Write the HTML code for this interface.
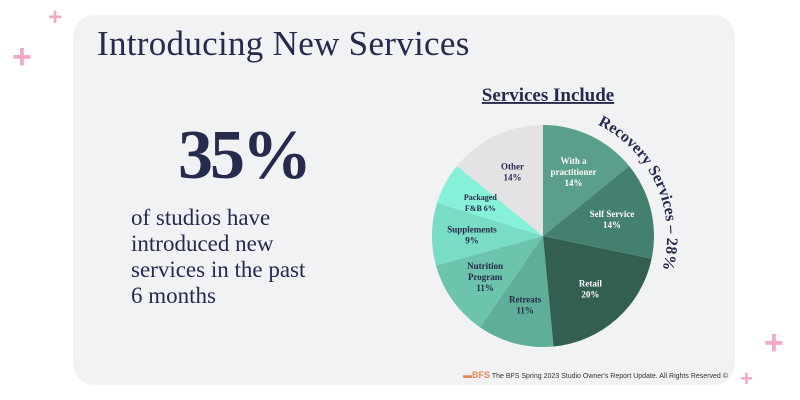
<!DOCTYPE html>
<html><head><meta charset="utf-8"><style>
body{margin:0;width:800px;height:400px;background:#fff;overflow:hidden;position:relative;font-family:"Liberation Serif",serif}
.card{position:absolute;left:73px;top:15px;width:662px;height:370px;background:#f1f2f4;border-radius:22px}
.title{position:absolute;left:97px;top:24px;font-size:35px;color:#262a4c;letter-spacing:0.3px}
.big{position:absolute;left:178px;top:116px;font-size:70px;font-weight:bold;color:#262a4c;letter-spacing:-3px}
.desc{position:absolute;left:131px;top:205px;font-size:23px;line-height:26px;color:#262a4c}
.foot{position:absolute;left:463px;top:370px;font-family:"Liberation Sans",sans-serif;font-size:7px;color:#333}
.plus{position:absolute;color:#f2a9c6;font-family:"Liberation Sans",sans-serif;font-weight:bold}
</style></head><body>
<div class="card"></div>
<div class="plus" style="left:48px;top:4px;font-size:24px">+</div>
<div class="plus" style="left:12px;top:38px;font-size:34px">+</div>
<div class="plus" style="left:764px;top:324px;font-size:34px">+</div>
<div class="plus" style="left:740px;top:366px;font-size:22px">+</div>
<div class="title">Introducing New Services</div>
<div class="big">35%</div>
<div class="desc">of studios have<br>introduced new<br>services in the past<br>6 months</div>
<svg id="chart" width="800" height="400" style="position:absolute;left:0;top:0">
<text x="548" y="101" text-anchor="middle" font-size="19" font-weight="bold" fill="#262a4c" text-decoration="underline">Services Include</text>
<defs><path id="arc" d="M 597.6 124.5 A 124 124 0 0 1 655.4 288.4" fill="none"/></defs>
<text font-size="16" font-weight="bold" fill="#262a4c"><textPath href="#arc">Recovery Services – 28%</textPath></text>
</svg>
<div class="foot"><b style="color:#e8875a;font-size:9px">▬BFS</b> The BFS Spring 2023 Studio Owner's Report Update. All Rights Reserved ©</div>
<script>
const categories=["With a|practitioner","Self Service","Retail","Retreats","Nutrition|Program","Supplements","Packaged|F&B"];
const values=[14,14,20,11,11,9,6,14];
const labels=["14%","14%","20%","11%","11%","9%","6%","14%"];
categories.push("Other");
const colors=["#5a9e8c","#44806f","#335f52","#5fae99","#6cc4ad","#79dcc4","#86f0d8","#e3e3e6"];
const svg=document.getElementById('chart');
const cx=543,cy=236,r=111;
const total=values.reduce((a,b)=>a+b,0);
const NS="http://www.w3.org/2000/svg";
function pt(a,rr){return [cx+rr*Math.sin(a),cy-rr*Math.cos(a)];}
let acc=0;
values.forEach((v,i)=>{
 const a0=acc/total*2*Math.PI; acc+=v; const a1=acc/total*2*Math.PI;
 const p0=pt(a0,r),p1=pt(a1,r);
 const p=document.createElementNS(NS,'path');
 p.setAttribute('d',`M${cx},${cy}L${p0[0]},${p0[1]}A${r},${r} 0 ${a1-a0>Math.PI?1:0} 1 ${p1[0]},${p1[1]}Z`);
 p.setAttribute('fill',colors[i]);
 
 
 svg.insertBefore(p,svg.firstChild);
 const am=(a0+a1)/2; const c=pt(am,r*0.64);
 const lines=categories[i].split('|');
 if(i===6){lines[1]=lines[1]+'  '+labels[i];} else lines.push(labels[i]);
 const dark=i>=3;
 const t=document.createElementNS(NS,'text');
 t.setAttribute('text-anchor','middle');t.setAttribute('font-size',i===6?'8':'9');t.setAttribute('font-weight','bold');
 t.setAttribute('fill',dark?'#262a4c':'#ffffff');
 
 
 lines.forEach((l,j)=>{const s=document.createElementNS(NS,'tspan');s.setAttribute('x',c[0]);s.setAttribute('y',c[1]+(j-(lines.length-1)/2)*11+3);s.textContent=l;t.appendChild(s);});
 svg.appendChild(t);
});
</script>
</body></html>
